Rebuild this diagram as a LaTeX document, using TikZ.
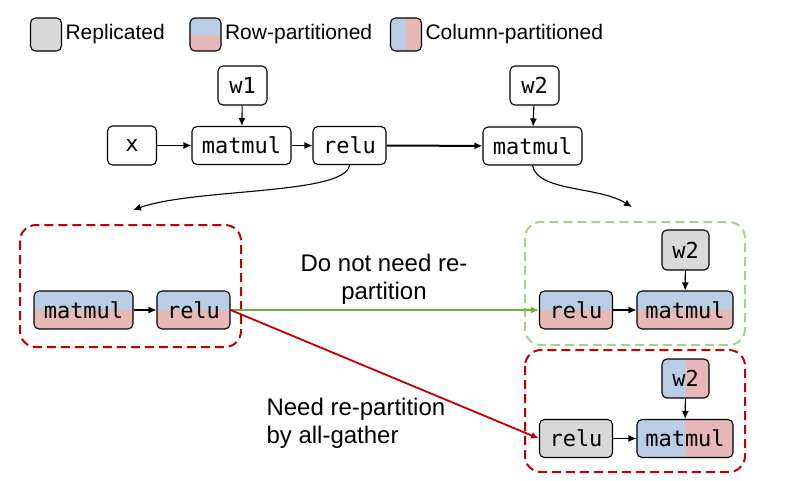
\documentclass[tikz,border=0pt]{standalone}
\usepackage{fontspec}
\setmainfont{Liberation Sans}
\setmonofont{DejaVu Sans Mono}
\usetikzlibrary{arrows.meta}

\definecolor{repgray}{HTML}{D9D9D9}
\definecolor{partblue}{HTML}{B9CDE5}
\definecolor{partred}{HTML}{E6B9B8}
\definecolor{darkred}{HTML}{C00000}
\definecolor{lightgreen}{HTML}{A9D18E}
\definecolor{arrowgreen}{HTML}{70AD47}

\tikzset{
    op/.style = {draw, rounded corners=5pt, line width=1.1pt, inner sep=0pt,
        minimum height=38pt, font=\fontsize{22}{26}\selectfont\ttfamily},
    wide/.style = {op, minimum width=99pt},
    mid/.style = {op, minimum width=73pt},
    small/.style = {op, minimum width=49pt, minimum height=39pt},
    key/.style = {op, minimum width=31pt, minimum height=33pt},
    rep/.style = {fill=repgray},
    rowp/.style = {path picture={
        \fill[partblue, sharp corners] (path picture bounding box.north west) rectangle (path picture bounding box.east);
        \fill[partred, sharp corners] (path picture bounding box.west) rectangle (path picture bounding box.south east);}},
    colp/.style = {path picture={
        \fill[partblue, sharp corners] (path picture bounding box.north west) rectangle (path picture bounding box.south);
        \fill[partred, sharp corners] (path picture bounding box.north) rectangle (path picture bounding box.south east);}},
    label/.style = {font=\fontsize{24}{28}\selectfont, align=left},
    keylabel/.style = {font=\fontsize{21}{24}\selectfont, anchor=west},
    group/.style = {rounded corners=16pt, line width=2pt, dash pattern=on 9pt off 5pt},
    flow/.style = {-{Latex[length=8pt, width=7pt]}, line width=1.1pt}
}

\begin{document}
\begin{tikzpicture}[x=1pt, y=-1pt]
    \useasboundingbox (0,0) rectangle (787,480);

    % Legend
    \node[key, rep] (k1) at (46,34.5) {};
    \node[keylabel] (k1t) at (k1.east) {Replicated};
    \node[key, rowp] (k2) at (205.5,34.5) {};
    \node[keylabel] (k2t) at (k2.east) {Row-partitioned};
    \node[key, colp] (k3) at (406,34.5) {};
    \node[keylabel] (k3t) at (k3.east) {Column-partitioned};

    % Original graph
    \node[small] (x) at (132,145.5) {x};
    \node[wide] (mm1) at (241.5,145.5) {matmul};
    \node[mid] (relu) at (349.5,145.5) {relu};
    \node[small] (w1) at (242.5,85.5) {w1};
    \node[small] (w2) at (534.5,85.5) {w2};
    \node[wide] (mm2) at (532.5,146) {matmul};

    \draw[flow] (x) -- (mm1);
    \draw[flow] (mm1) -- (relu);
    \draw[flow] (w1) -- (mm1);
    \draw[flow] (w2) -- (mm2);
    \draw[flow, line width=2pt] (relu) -- (mm2);

    % Expansion arrows
    \coordinate (c1) at (133,210);
    \coordinate (c2) at (632,207);
    \draw[flow] (relu.south) .. controls (346,195) and (195,188) .. (c1);
    \draw[flow] (mm2.south) .. controls (538,192) and (598,186) .. (c2);

    % Dashed groups
    \draw[group, darkred] (20,225) rectangle (241,347);
    \draw[group, lightgreen] (525,222) rectangle (745,345);
    \draw[group, darkred] (525,350) rectangle (745,472);

    % Left group
    \node[wide, rowp] (lmm) at (83.5,310) {matmul};
    \node[mid, rowp] (lrelu) at (193.5,310) {relu};
    \draw[flow] (lmm) -- (lrelu);

    % Right group, no re-partition
    \node[mid, rowp] (grelu) at (576,310) {relu};
    \node[wide, rowp, minimum width=96pt] (gmm) at (685,310) {matmul};
    \node[small, rep, minimum width=47pt, minimum height=40pt] (gw2) at (685.5,250) {w2};
    \draw[flow] (grelu) -- (gmm);
    \draw[flow] (gw2) -- (gmm);

    % Right group, re-partition
    \node[mid, rep] (rrelu) at (576,438.5) {relu};
    \node[wide, colp, minimum width=96pt] (rmm) at (685,438.5) {matmul};
    \node[small, colp, minimum width=47pt] (rw2) at (685.5,378.5) {w2};
    \draw[flow] (rrelu) -- (rmm);
    \draw[flow] (rw2) -- (rmm);

    % Transitions
    \draw[flow, arrowgreen, line width=1.6pt] (lrelu.east) -- (grelu.west);
    \draw[flow, darkred, line width=1.8pt] (lrelu.east) -- (rrelu.west);
    \node[label, align=center] (t1) at (384,279) {Do not need re-\\partition};
    \node[label, anchor=west] (t2) at (263,423) {Need re-partition\\by all-gather};
\end{tikzpicture}
\end{document}
